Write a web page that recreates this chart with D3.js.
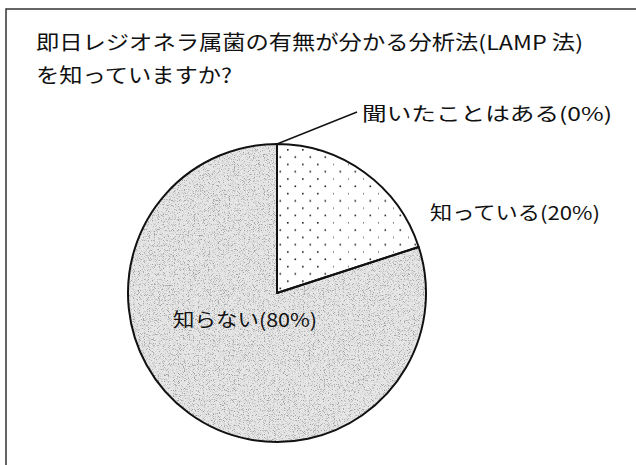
<!DOCTYPE html>
<html>
<head>
<meta charset="utf-8">
<script src="https://cdn.jsdelivr.net/npm/d3@7"></script>
<style>
  body { margin: 0; background: #fff; }
  text { font-family: "Noto Sans CJK JP", sans-serif; fill: #111; }
</style>
</head>
<body>
<div id="graf"></div>
<script>
// Datos
const categorias = ['聞いたことはある', '知っている', '知らない']
const valores = [0, 20, 80]
const titulo = ['即日レジオネラ属菌の有無が分かる分析法(LAMP 法)', 'を知っていますか?']

// Dimensiones
const anchoTotal = 636
const altoTotal = 465
const cx = 277
const cy = 293
const radio = 149

const svg = d3.select('#graf').append('svg')
    .attr('width', anchoTotal)
    .attr('height', altoTotal)

const defs = svg.append('defs')

// Patrón de puntos (知っている)
const puntos = defs.append('pattern')
    .attr('id', 'puntos')
    .attr('patternUnits', 'userSpaceOnUse')
    .attr('width', 15)
    .attr('height', 14.6)
    .attr('x', cx + 3)
    .attr('y', cy - radio + 4)
puntos.append('rect').attr('width', 15).attr('height', 14.6).attr('fill', '#fff')
puntos.append('rect').attr('x', 0).attr('y', 0).attr('width', 1.6).attr('height', 1.6).attr('fill', '#222')
puntos.append('rect').attr('x', 7.5).attr('y', 7.3).attr('width', 1.6).attr('height', 1.6).attr('fill', '#222')

// Textura gris (知らない)
const filtro = defs.append('filter').attr('id', 'grano')
    .attr('x', 0).attr('y', 0).attr('width', 1).attr('height', 1)
filtro.append('feTurbulence')
    .attr('type', 'fractalNoise')
    .attr('baseFrequency', 1.2)
    .attr('numOctaves', 1)
    .attr('seed', 5)
    .attr('result', 'ruido')
filtro.append('feColorMatrix')
    .attr('in', 'ruido')
    .attr('type', 'matrix')
    .attr('values', '0 0 0 0 0.35  0 0 0 0 0.35  0 0 0 0 0.35  0 0 0 5 -2.6')
    .attr('result', 'manchas')
filtro.append('feComposite')
    .attr('in', 'manchas')
    .attr('in2', 'SourceGraphic')
    .attr('operator', 'in')
    .attr('result', 'recorte')
filtro.append('feMerge').call(m => {
    m.append('feMergeNode').attr('in', 'SourceGraphic')
    m.append('feMergeNode').attr('in', 'recorte')
})

// Marco
svg.append('path')
    .attr('d', `M6,${altoTotal} V9 H${anchoTotal}`)
    .attr('fill', 'none')
    .attr('stroke', '#333')
    .attr('stroke-width', 1.5)

// Título
svg.append('text')
    .attr('x', 36).attr('y', 50)
    .attr('font-size', 20)
    .attr('textLength', 547)
    .attr('lengthAdjust', 'spacingAndGlyphs')
    .text(titulo[0])
svg.append('text')
    .attr('x', 36).attr('y', 83)
    .attr('font-size', 20)
    .attr('textLength', 196)
    .attr('lengthAdjust', 'spacingAndGlyphs')
    .text(titulo[1])

// Tarta
const pie = d3.pie().sort(null).value(d => d)
const arcos = pie(valores)
const arc = d3.arc().innerRadius(0).outerRadius(radio)

const g = svg.append('g').attr('transform', `translate(${cx}, ${cy})`)

const relleno = ['#fff', 'url(#puntos)', '#e6e6e6']

g.selectAll('path.gajo')
    .data(arcos.filter(d => d.value > 0))
    .join('path')
    .attr('class', 'gajo')
    .attr('d', arc)
    .attr('fill', d => relleno[d.index])
    .attr('filter', d => d.index === 2 ? 'url(#grano)' : null)

g.selectAll('path.borde')
    .data(arcos.filter(d => d.value > 0))
    .join('path')
    .attr('class', 'borde')
    .attr('d', arc)
    .attr('fill', 'none')
    .attr('stroke', '#111')
    .attr('stroke-width', 2)
    .attr('stroke-linejoin', 'round')

// Etiquetas
const posEtiqueta = [
    { dx: 85, dy: -172, ancho: 250 },
    { dx: 153, dy: -73, ancho: 170 },
    { dx: -104, dy: 34, ancho: 144 }
]

const punto = a => [radio * Math.sin(a), -radio * Math.cos(a)]

// Línea guía para el 0%
const p0 = punto(arcos[0].startAngle)
g.append('line')
    .attr('x1', p0[0]).attr('y1', p0[1])
    .attr('x2', p0[0] + 80).attr('y2', p0[1] - 32)
    .attr('stroke', '#111')
    .attr('stroke-width', 1.5)

g.selectAll('text.etiqueta')
    .data(arcos)
    .join('text')
    .attr('class', 'etiqueta')
    .attr('x', (d, i) => posEtiqueta[i].dx)
    .attr('y', (d, i) => posEtiqueta[i].dy)
    .attr('font-size', 19)
    .attr('textLength', (d, i) => posEtiqueta[i].ancho)
    .attr('lengthAdjust', 'spacingAndGlyphs')
    .text((d, i) => `${categorias[i]}(${d.value}%)`)
</script>
</body>
</html>
